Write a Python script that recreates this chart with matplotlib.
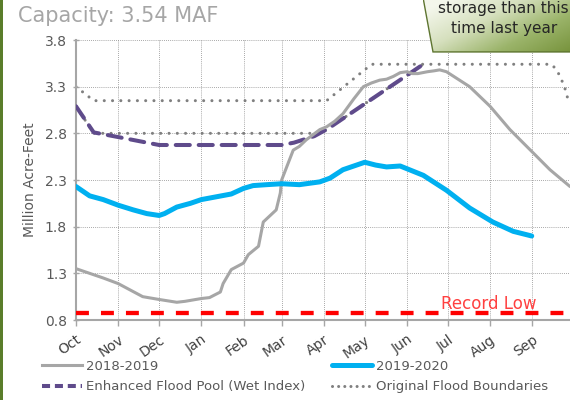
import numpy as np
import matplotlib
matplotlib.use("Agg")
import matplotlib.pyplot as plt
from matplotlib.lines import Line2D
from matplotlib.patches import Polygon, Rectangle
from matplotlib.colors import LinearSegmentedColormap

plt.rcParams['font.family'] = ['DejaVu Sans']

# ---------------- data ----------------
month_labels = ["Oct", "Nov", "Dec", "Jan", "Feb", "Mar", "Apr", "May", "Jun", "Jul", "Aug", "Sep"]
month_days = [0, 31, 61, 92, 123, 151, 182, 212, 243, 273, 304, 335]
y_ticks = [0.8, 1.3, 1.8, 2.3, 2.8, 3.3, 3.8]

days_1819 = [0, 20, 31, 49, 61, 74, 80, 92, 98, 106, 108, 114, 123, 126.5, 134, 137.5, 147, 150, 151,
             154.7, 159.5, 164, 169, 179, 184, 190, 196, 204, 211, 217, 223, 228, 233, 238, 243, 247,
             251, 258, 263, 267, 272, 289, 304, 318.6, 335.7, 348, 362.7]
vals_1819 = [1.35, 1.25, 1.19, 1.05, 1.02, 0.99, 1.00, 1.03, 1.04, 1.10, 1.19, 1.34, 1.41, 1.50, 1.59,
             1.85, 1.98, 2.16, 2.30, 2.44, 2.62, 2.66, 2.73, 2.84, 2.87, 2.93, 3.01, 3.17, 3.30, 3.34,
             3.37, 3.38, 3.41, 3.45, 3.46, 3.44, 3.44, 3.46, 3.47, 3.48, 3.46, 3.30, 3.09, 2.84, 2.59,
             2.41, 2.23]

days_1920 = [0, 10, 20, 31, 42, 52, 61, 65, 74, 84, 92, 103, 114, 123, 130, 140, 151, 164, 179, 186.5,
             196, 212, 220, 228, 238, 255, 272, 289, 306, 321, 334.6]
vals_1920 = [2.23, 2.13, 2.09, 2.03, 1.98, 1.94, 1.92, 1.94, 2.01, 2.05, 2.09, 2.12, 2.15, 2.21, 2.24,
             2.25, 2.26, 2.25, 2.28, 2.32, 2.41, 2.49, 2.46, 2.44, 2.45, 2.35, 2.19, 2.00, 1.85, 1.75, 1.70]

days_enh = [0, 13, 31, 61, 151, 160, 175, 185, 255]
vals_enh = [3.09, 2.81, 2.76, 2.675, 2.675, 2.70, 2.77, 2.85, 3.54]

days_orig_up = [0, 13, 184, 217, 349, 353, 356.6, 359, 361.5, 363]
vals_orig_up = [3.30, 3.15, 3.15, 3.54, 3.54, 3.48, 3.37, 3.28, 3.15, 3.15]
days_orig_low = [0, 13, 180, 255]
vals_orig_low = [3.09, 2.80, 2.80, 3.54]

record_low = 0.88

# ---------------- figure ----------------
W, H = 570, 400
fig = plt.figure(figsize=(W / 100, H / 100), dpi=100)
fig.patch.set_facecolor("white")

ax = fig.add_axes([76 / W, 80 / H, 494 / W, 280 / H])
ax.set_xlim(0, 362.7)
ax.set_ylim(0.8, 3.8)

grid_kw = dict(color="#8c8c8c", linestyle=(0, (1, 1.5)), linewidth=0.6, zorder=0)
for d in month_days[1:]:
    ax.axvline(d, **grid_kw)
for v in y_ticks[1:]:
    ax.axhline(v, **grid_kw)

dot_style = dict(color="#808080", linewidth=2.2, linestyle=(0, (0.01, 2.7)),
                 dash_capstyle="round", zorder=2)
ax.plot(days_orig_up, vals_orig_up, **dot_style)
ax.plot(days_orig_low, vals_orig_low, **dot_style)

ax.plot(days_enh, vals_enh, color="#5F4B8B", linewidth=2.9, linestyle=(0, (3.5, 2.2)),
        dash_capstyle="round", zorder=3)

ax.plot(days_1819, vals_1819, color="#A6A6A6", linewidth=2.2, solid_capstyle="round", zorder=4)
ax.plot(days_1920, vals_1920, color="#00B0F0", linewidth=3.6, solid_capstyle="round", zorder=5)

ax.axhline(record_low, color="#FF0000", linewidth=3.1, linestyle=(0, (3.0, 2.8)), zorder=6)
ax.text(268, 0.918, "Record Low", color="#FF4040", fontsize=12, ha="left", va="baseline", zorder=7)

for s in ["top", "right"]:
    ax.spines[s].set_visible(False)
for s in ["left", "bottom"]:
    ax.spines[s].set_color("#A6A6A6")
    ax.spines[s].set_linewidth(1.5)

ax.set_yticks(y_ticks)
ax.set_yticklabels([f"{v:.1f}" for v in y_ticks])
ax.set_xticks(month_days)
ax.set_xticklabels(month_labels, rotation=35, ha="right", rotation_mode="anchor")
ax.tick_params(axis="y", direction="inout", length=5, width=1, color="#A6A6A6",
               labelsize=10, labelcolor="#595959", pad=4)
ax.tick_params(axis="x", direction="out", length=4, width=1, color="#A6A6A6",
               labelsize=10, labelcolor="#404040", pad=5)
ax.set_ylabel("Million Acre-Feet", fontsize=10, color="#595959", labelpad=6)

# title
fig.text(18 / W, 1 - 22 / H, "Capacity: 3.54 MAF", fontsize=15, color="#A6A6A6",
         ha="left", va="baseline")

# legend (two columns)
h1 = Line2D([], [], color="#A6A6A6", linewidth=2.2)
h2 = Line2D([], [], color="#5F4B8B", linewidth=2.9, linestyle=(0, (2.0, 1.2)))
h3 = Line2D([], [], color="#00B0F0", linewidth=3.6, solid_capstyle="round")
h4 = Line2D([], [], color="#808080", linewidth=2.2, linestyle=(0, (0.01, 2.0)), dash_capstyle="round")
leg_kw = dict(frameon=False, fontsize=9.5, handlelength=3.0, handletextpad=0.35,
              borderpad=0, borderaxespad=0, labelspacing=0.55, labelcolor="#595959")
fig.legend([h1, h2], ["2018-2019", "Enhanced Flood Pool (Wet Index)"], loc="upper left",
           bbox_to_anchor=(42 / W, 1 - 360 / H), **leg_kw)
fig.legend([h3, h4], ["2019-2020", "Original Flood Boundaries"], loc="upper left",
           bbox_to_anchor=(332 / W, 1 - 360 / H), **leg_kw)

# left green slide bar
fig.patches.append(Rectangle((0, 0), 3 / W, 1, transform=fig.transFigure,
                             facecolor="#5a7d2a", edgecolor="none", zorder=10))

# annotation callout (top-right, cropped)
bx = fig.add_axes([423 / W, 1 - 53 / H, 147 / W, 53 / H], zorder=20)
bx.set_xlim(0, 1)
bx.set_ylim(0, 1)
bx.axis("off")
gx, gy = np.meshgrid(np.linspace(0, 1, 200), np.linspace(1, 0, 60))
t = np.clip(0.65 * gx + 0.45 * (1 - gy) - 0.1, 0, 1)
cmap = LinearSegmentedColormap.from_list("g", ["#F4F7EC", "#D6E0BE", "#9BB46A", "#77933C"])
im = bx.imshow(t, cmap=cmap, extent=[0, 1, 0, 1], aspect="auto", vmin=0, vmax=1)
poly = Polygon([(0, 1.05), (1.05, 1.05), (1.05, 0.02), (10 / 147, 0.02)], closed=True,
               transform=bx.transData, facecolor="none", edgecolor="#5E7530", linewidth=1)
bx.add_patch(poly)
im.set_clip_path(poly)
fig.text(438 / W, 1 - 13 / H, "storage than this", fontsize=11, color="#262626",
         ha="left", va="baseline", zorder=30)
fig.text(451 / W, 1 - 33 / H, "time last year", fontsize=11, color="#262626",
         ha="left", va="baseline", zorder=30)

fig.savefig("out.png", dpi=100)
